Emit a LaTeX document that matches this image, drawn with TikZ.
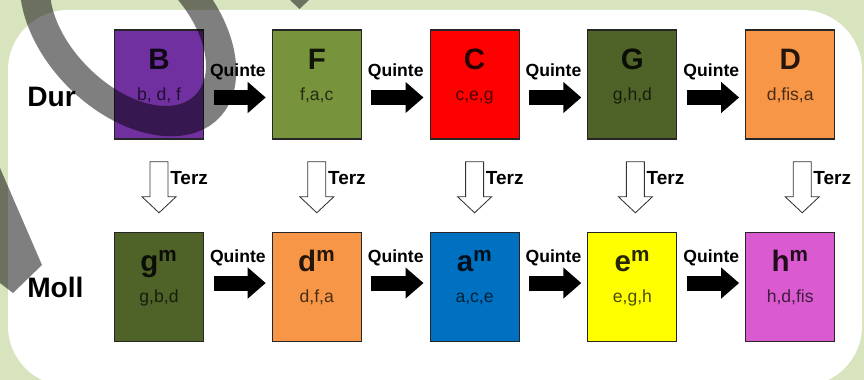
\documentclass[tikz,border=0pt]{standalone}
\usepackage{fontspec}
\setmainfont{Liberation Sans}
\usetikzlibrary{positioning,calc,arrows.meta}

\definecolor{bggreen}{HTML}{D7E4BD}
\definecolor{durB}{HTML}{7030A0}
\definecolor{durF}{HTML}{77933C}
\definecolor{durC}{HTML}{FF0000}
\definecolor{durG}{HTML}{4F6228}
\definecolor{durD}{HTML}{F79646}
\definecolor{mollA}{HTML}{0070C0}
\definecolor{mollE}{HTML}{FFFF00}
\definecolor{mollH}{HTML}{D95BCF}

\begin{document}
\begin{tikzpicture}[x=0.025cm, y=-0.025cm, node distance=5.0625cm and 3.944cm, on grid,
    chordbox/.style={draw=black!85, line width=0.8pt, minimum width=2.225cm, minimum height=2.725cm, inner sep=0pt},
    chordname/.style={anchor=base, inner sep=0pt, text opacity=0.85, font=\bfseries\fontsize{21}{21}\selectfont},
    chordnotes/.style={anchor=base, inner sep=0pt, text opacity=0.7, font=\fontsize{12.5}{12.5}\selectfont},
    rowlabel/.style={anchor=west, inner sep=0pt, font=\bfseries\fontsize{20}{20}\selectfont},
    quinte/.style={line width=0.375cm, shorten <=0.24cm, shorten >=0.15cm, -{Triangle[length=0.45cm, width=0.75cm]}},
    quintelabel/.style={inner sep=0pt, yshift=0.64cm, font=\bfseries\fontsize{12.5}{12.5}\selectfont},
    terzarrow/.style={draw=black!80, line width=0.6pt, fill=white, line join=miter},
    terzlabel/.style={anchor=west, inner sep=0pt, font=\bfseries\fontsize{13.5}{13.5}\selectfont},
    shade/.style={fill=black, fill opacity=0.5}]

    % background and panel
    \useasboundingbox (0,0) rectangle (864,380);
    \fill[bggreen] (0,0) rectangle (864,380);
    \fill[white, rounded corners=1.5cm] (8,10) rectangle (862,386);

    % Dur
    \node[chordbox, fill=durB] (B) at (159,84.5) {};
    \node[chordbox, fill=durF] (F) [right=of B] {};
    \node[chordbox, fill=durC] (C) [right=of F] {};
    \node[chordbox, fill=durG] (G) [right=of C] {};
    \node[chordbox, fill=durD] (D) [right=of G] {};

    % Moll
    \node[chordbox, fill=durG] (gm) [below=of B] {};
    \node[chordbox, fill=durD] (dm) [below=of F] {};
    \node[chordbox, fill=mollA] (am) [below=of C] {};
    \node[chordbox, fill=mollE] (em) [below=of G] {};
    \node[chordbox, fill=mollH] (hm) [below=of D] {};

    \node[rowlabel] (dur) at (27,97) {Dur};
    \node[rowlabel] (moll) at (27,287) {Moll};

    \foreach \bx/\chord/\notes in {B/B/{b, d, f}, F/F/{f,a,c}, C/C/{c,e,g}, G/G/{g,h,d}, D/D/{d,fis,a},
        gm/{g\textsuperscript{m}}/{g,b,d}, dm/{d\textsuperscript{m}}/{d,f,a}, am/{a\textsuperscript{m}}/{a,c,e},
        em/{e\textsuperscript{m}}/{e,g,h}, hm/{h\textsuperscript{m}}/{h,d,fis}} {
        \node[chordname] (\bx-name) at ([yshift=-1.0cm]\bx.north) {\chord};
        \node[chordnotes] (\bx-notes) at ([yshift=-1.775cm]\bx.north) {\notes};
    }

    % Quinte arrows
    \path[quinte]
        ([yshift=-0.325cm]B.east) edge node[quintelabel] (q1) {Quinte} ([yshift=-0.325cm]F.west)
        ([yshift=-0.325cm]F.east) edge node[quintelabel] (q2) {Quinte} ([yshift=-0.325cm]C.west)
        ([yshift=-0.325cm]C.east) edge node[quintelabel] (q3) {Quinte} ([yshift=-0.325cm]G.west)
        ([yshift=-0.325cm]G.east) edge node[quintelabel] (q4) {Quinte} ([yshift=-0.325cm]D.west)
        ([yshift=0.1cm]gm.east) edge node[quintelabel] (q5) {Quinte} ([yshift=0.1cm]dm.west)
        ([yshift=0.1cm]dm.east) edge node[quintelabel] (q6) {Quinte} ([yshift=0.1cm]am.west)
        ([yshift=0.1cm]am.east) edge node[quintelabel] (q7) {Quinte} ([yshift=0.1cm]em.west)
        ([yshift=0.1cm]em.east) edge node[quintelabel] (q8) {Quinte} ([yshift=0.1cm]hm.west);

    % Terz arrows
    \foreach \up/\dn/\dx in {B/gm/0, F/dm/0, C/am/0, G/em/3, D/hm/12} {
        \coordinate (terz-\up) at ($(\up.south)!0.5!(\dn.north)$);
        \begin{scope}[shift={(terz-\up)}, xshift=\dx*0.025cm]
            \draw[terzarrow] (-9,-24) -- (9,-24) -- (9,11) -- (17,11) -- (0,27) -- (-17,11) -- (-9,11) -- cycle;
            \node[terzlabel] (terz-\up-label) at (11,-8) {Terz};
        \end{scope}
    }

    % grey marks over the slide
    \begin{scope}[shift={(128,28)}, rotate=-45]
        \fill[shade, even odd rule] (0,0) ellipse [x radius=128, y radius=84]
            (0,0) ellipse [x radius=95, y radius=56];
    \end{scope}
    \fill[shade] (290,0) -- (309,0) -- (299.5,9) -- cycle;
    \fill[shade] (0,168) -- (42,265) -- (13,293) -- (0,283) -- cycle;
\end{tikzpicture}
\end{document}
